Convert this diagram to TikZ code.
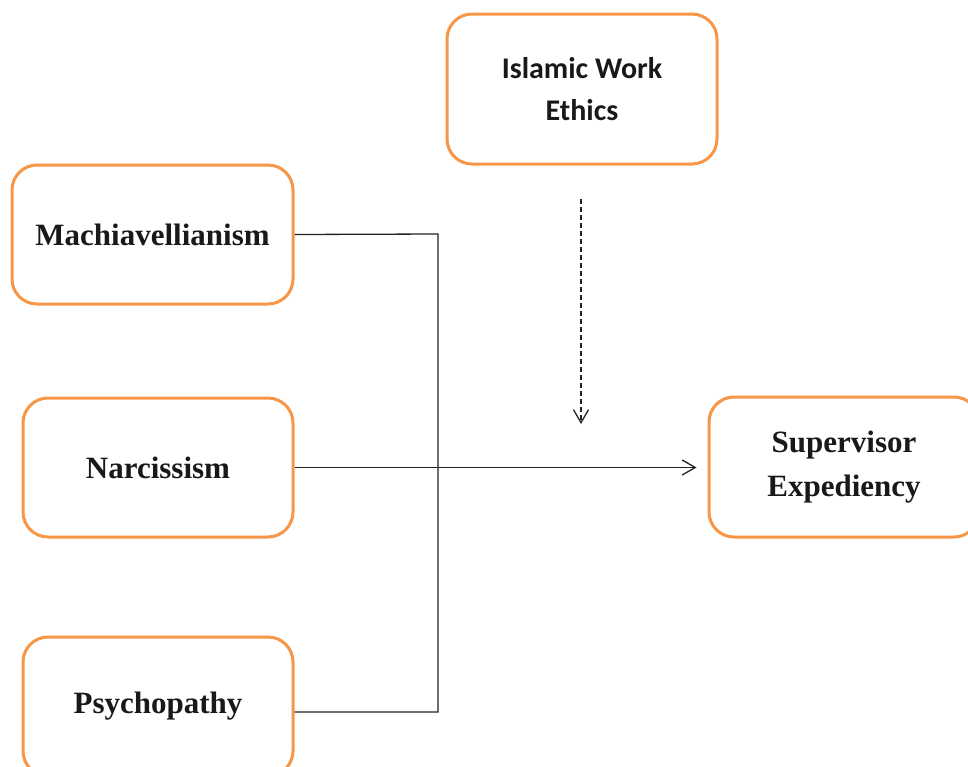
\documentclass[tikz,border=0pt]{standalone}
\usepackage{fontspec}
\setmainfont{Liberation Serif}
\newfontfamily\calib{Carlito}
\usetikzlibrary{arrows.meta}
\definecolor{boxorange}{HTML}{F79646}
\definecolor{linegray}{HTML}{222222}
\tikzset{
  varbox/.style={draw=boxorange, line width=3pt, rounded corners=25pt, fill=white,
    minimum width=270pt, minimum height=139pt, align=center,
    font=\fontsize{31}{44}\selectfont\bfseries, text=black!90},
  link/.style={draw=linegray, line width=1.3pt},
  tip/.style={-{Straight Barb[length=13pt,width=15pt,line width=1.3pt]}}
}
\begin{document}
\begin{tikzpicture}[x=1pt,y=-1pt]
\useasboundingbox (0,0) rectangle (968,766);
\node[varbox, minimum height=150pt, font=\calib\fontsize{30}{42}\selectfont\bfseries] (iwe) at (582,89) {Islamic Work\\Ethics};
\node[varbox, minimum width=281pt] (mach) at (152.5,234.5) {Machiavellianism};
\node[varbox] (narc) at (158,467.5) {Narcissism};
\node[varbox] (psy) at (158,706.5) {Psychopathy};
\node[varbox, minimum height=140pt] (sup) at (844,467) {Supervisor\\Expediency};
\coordinate (j1) at (438,234);
\coordinate (j2) at (438,712);
\coordinate (m) at (581,424);
\draw[link] (mach.east) -- (j1) -- (j2) -- (psy.east |- j2);
\draw[link, tip, shorten >=11pt] (narc.east) -- (sup.west |- narc.east);
\draw[link, tip, dash pattern=on 5pt off 3pt] ([yshift=-33pt]iwe.south -| m) -- (m);
\end{tikzpicture}
\end{document}
